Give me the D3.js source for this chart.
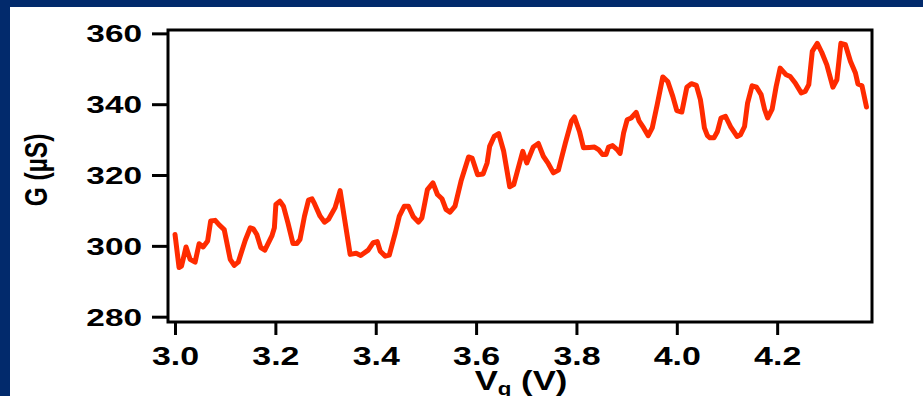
<!DOCTYPE html>
<html>
<head>
<meta charset="utf-8">
<script src="https://cdn.jsdelivr.net/npm/d3@7"></script>
<style>
  html, body { margin: 0; padding: 0; background: #022a6c; }
  svg { display: block; }
</style>
</head>
<body>
<svg id="chart" width="923" height="396"></svg>
<script>
// Gate voltage sweep (V) and measured conductance G (µS)
const gateVoltage = [
  3.000,3.008,3.013,3.022,3.030,3.040,3.048,3.056,3.065,3.071,
  3.080,3.088,3.098,3.110,3.118,3.126,3.140,3.150,3.156,3.163,
  3.171,3.179,3.193,3.198,3.201,3.209,3.216,3.225,3.235,3.243,
  3.249,3.258,3.266,3.273,3.278,3.289,3.298,3.306,3.319,3.329,
  3.349,3.361,3.370,3.385,3.395,3.403,3.409,3.419,3.427,3.439,
  3.447,3.457,3.465,3.475,3.485,3.492,3.503,3.514,3.523,3.532,
  3.540,3.548,3.558,3.570,3.585,3.592,3.603,3.614,3.622,3.627,
  3.636,3.645,3.655,3.667,3.675,3.693,3.701,3.714,3.724,3.734,
  3.744,3.754,3.764,3.778,3.790,3.796,3.806,3.814,3.826,3.836,
  3.844,3.852,3.859,3.864,3.872,3.881,3.887,3.894,3.901,3.909,
  3.919,3.925,3.934,3.943,3.951,3.961,3.972,3.982,3.992,4.000,
  4.010,4.020,4.029,4.039,4.047,4.050,4.055,4.061,4.066,4.074,
  4.081,4.088,4.097,4.107,4.120,4.127,4.135,4.141,4.150,4.159,
  4.168,4.175,4.181,4.190,4.198,4.206,4.218,4.226,4.236,4.248,
  4.256,4.263,4.270,4.280,4.289,4.299,4.311,4.319,4.327,4.336,
  4.346,4.356,4.361,4.369,4.378
];
const conductance = [
  303.2,293.9,294.3,299.7,296.2,295.4,300.6,299.7,301.4,307.0,
  307.2,305.9,304.6,296.2,294.5,295.4,301.6,305.1,304.8,303.2,
  299.5,298.8,302.8,305.1,311.7,312.6,311.2,306.5,300.7,300.7,
  301.8,308.4,312.9,313.3,311.9,308.4,306.7,307.5,310.8,315.6,
  297.6,297.9,297.3,298.8,300.9,301.2,298.5,297.1,297.4,303.7,
  308.4,311.2,311.2,308.2,306.7,307.9,315.9,317.8,314.5,313.3,
  310.3,309.5,311.2,318.3,325.1,324.8,320.1,320.3,323.4,328.1,
  330.9,331.7,326.7,316.7,317.3,326.7,323.4,327.9,328.9,325.3,
  323.2,320.6,321.4,329.1,335.2,336.4,332.3,327.7,327.8,327.9,
  327.2,325.8,325.8,327.9,328.3,327.2,326.1,331.9,335.6,336.1,
  337.7,335.2,333.3,331.1,333.3,339.9,347.7,346.4,342.2,338.2,
  337.8,344.8,345.8,345.3,341.3,338.5,333.3,331.1,330.5,330.5,
  332.3,336.1,336.6,333.7,330.9,331.4,333.7,340.3,345.2,344.8,
  342.7,338.5,336.1,338.6,345.0,350.2,348.3,347.8,346.0,343.2,
  343.6,345.5,354.9,357.2,354.6,351.1,344.8,346.9,357.2,356.8,
  352.1,348.8,345.7,345.2,339.2
];
const xTickValues = [3.0, 3.2, 3.4, 3.6, 3.8, 4.0, 4.2];
const yTickValues = [280, 300, 320, 340, 360];
const xDomain = [2.986, 4.389];
const yDomain = [278.5, 360.95];
const xTitle = "V", xTitleSub = "g", xTitleUnit = " (V)";
const yTitle = "G (µS)";

const svg = d3.select("#chart");
const FONT = "'Liberation Sans', Arial, Helvetica, sans-serif";
const plot = { left: 168, right: 872, top: 30, bottom: 322 };

// white panel inside the navy border
svg.append("rect")
  .attr("x", 10).attr("y", 7).attr("width", 913).attr("height", 389)
  .attr("fill", "#ffffff");

const x = d3.scaleLinear().domain(xDomain).range([plot.left, plot.right]);
const y = d3.scaleLinear().domain(yDomain).range([plot.bottom, plot.top]);

const points = gateVoltage.map((v, i) => ({ v, g: conductance[i] }));

// trace
svg.append("path")
  .datum(points)
  .attr("fill", "none")
  .attr("stroke", "#ff2b00")
  .attr("stroke-width", 5)
  .attr("stroke-linejoin", "round")
  .attr("stroke-linecap", "round")
  .attr("d", d3.line().x(d => x(d.v)).y(d => y(d.g)));

// y axis
const gy = svg.append("g")
  .attr("transform", `translate(${plot.left},0)`)
  .call(d3.axisLeft(y).tickValues(yTickValues).tickSize(16).tickFormat(d3.format("d")));
gy.select(".domain").remove();
gy.selectAll(".tick line").attr("stroke", "#000").attr("stroke-width", 3);
gy.selectAll(".tick text")
  .attr("x", 0).attr("dy", "0.36em")
  .attr("transform", "translate(-26,0) scale(1.42,1)")
  .attr("text-anchor", "end")
  .style("font-family", FONT).style("font-weight", "bold")
  .style("font-size", "23.5px").attr("fill", "#000");

// x axis
const gx = svg.append("g")
  .attr("transform", `translate(0,${plot.bottom})`)
  .call(d3.axisBottom(x).tickValues(xTickValues).tickSize(13).tickFormat(d3.format(".1f")));
gx.select(".domain").remove();
gx.selectAll(".tick line").attr("stroke", "#000").attr("stroke-width", 3);
gx.selectAll(".tick text")
  .attr("y", 0).attr("dy", 0)
  .attr("transform", "translate(0,42.5) scale(1.28,1)")
  .attr("text-anchor", "middle")
  .style("font-family", FONT).style("font-weight", "bold")
  .style("font-size", "26.5px").attr("fill", "#000");

// plot frame
svg.append("rect")
  .attr("x", plot.left).attr("y", plot.top)
  .attr("width", plot.right - plot.left).attr("height", plot.bottom - plot.top)
  .attr("fill", "none").attr("stroke", "#000").attr("stroke-width", 3);

// y title
svg.append("text")
  .attr("transform", "translate(47,170) rotate(-90) scale(1,1.25)")
  .attr("text-anchor", "middle")
  .style("font-family", FONT).style("font-weight", "bold").style("font-size", "24.5px")
  .attr("fill", "#000")
  .text(yTitle);

// x title with subscript
const xt = svg.append("text")
  .attr("transform", "translate(521,390) scale(1.24,1)")
  .attr("text-anchor", "middle")
  .style("font-family", FONT).style("font-weight", "bold").style("font-size", "28px")
  .attr("fill", "#000");
xt.append("tspan").text(xTitle);
xt.append("tspan").attr("dy", 5).style("font-size", "18px").text(xTitleSub);
xt.append("tspan").attr("dy", -5).text(xTitleUnit);
</script>
</body>
</html>
